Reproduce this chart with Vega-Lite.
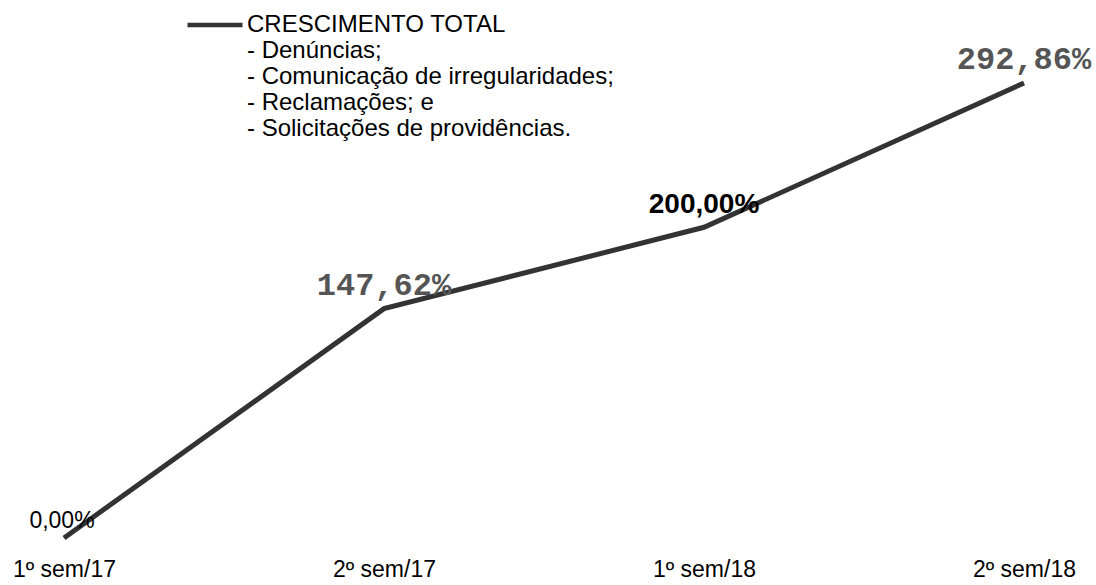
{
  "$schema": "https://vega.github.io/schema/vega-lite/v6.json",
  "autosize": {"type": "none"},
  "padding": {"left": 64, "right": 72, "top": 83, "bottom": 47},
  "width": 960,
  "height": 455,
  "background": "white",
  "config": {"view": {"stroke": null}, "font": "Liberation Sans"},
  "data": {"values": [
    {"periodo": "1º sem/17", "crescimento": 0, "rotulo": "0,00%"},
    {"periodo": "2º sem/17", "crescimento": 147.62, "rotulo": "147,62%"},
    {"periodo": "1º sem/18", "crescimento": 200.00, "rotulo": "200,00%"},
    {"periodo": "2º sem/18", "crescimento": 292.86, "rotulo": "292,86%"}
  ]},
  "encoding": {
    "x": {"field": "periodo", "type": "ordinal", "sort": null,
      "scale": {"type": "point", "padding": 0},
      "axis": {"title": null, "domain": false, "ticks": false, "grid": false, "labelAngle": 0,
        "labelFontSize": 23, "labelColor": "#000", "labelFont": "Liberation Sans", "labelPadding": 20}},
    "y": {"field": "crescimento", "type": "quantitative",
      "scale": {"domain": [0, 292.86], "nice": false, "zero": true}, "axis": null}
  },
  "layer": [
    {"mark": {"type": "line", "strokeWidth": 5, "strokeCap": "butt"},
     "encoding": {"color": {"datum": "CRESCIMENTO TOTAL", "type": "nominal",
       "scale": {"range": ["#333333"]},
       "legend": {"title": null, "orient": "none", "legendX": 121, "legendY": -88,
         "symbolType": "stroke", "symbolSize": 3025, "symbolStrokeWidth": 4.5, "symbolStrokeColor": "#333333",
         "labelFontSize": 24, "labelFont": "Liberation Sans", "labelColor": "#000", "labelOffset": 2,
         "labelLimit": 600, "labelBaseline": "middle",
         "labelExpr": "['CRESCIMENTO TOTAL', '- Denúncias;', '- Comunicação de irregularidades;', '- Reclamações; e', '- Solicitações de providências.']"}}}},
    {"transform": [{"filter": "datum.periodo === '1º sem/17'"}],
     "mark": {"type": "text", "fontSize": 23, "font": "Liberation Sans", "color": "#000", "dx": -2, "dy": -10, "baseline": "alphabetic"},
     "encoding": {"text": {"field": "rotulo"}}},
    {"transform": [{"filter": "datum.periodo === '2º sem/17' || datum.periodo === '2º sem/18'"}],
     "mark": {"type": "text", "fontSize": 32, "font": "Liberation Mono", "fontWeight": "bold", "color": "#555555", "dy": -14, "baseline": "alphabetic"},
     "encoding": {"text": {"field": "rotulo"}}},
    {"transform": [{"filter": "datum.periodo === '1º sem/18'"}],
     "mark": {"type": "text", "fontSize": 28, "font": "Liberation Sans", "fontWeight": "bold", "color": "#000", "dy": -14, "baseline": "alphabetic"},
     "encoding": {"text": {"field": "rotulo"}}}
  ]
}
